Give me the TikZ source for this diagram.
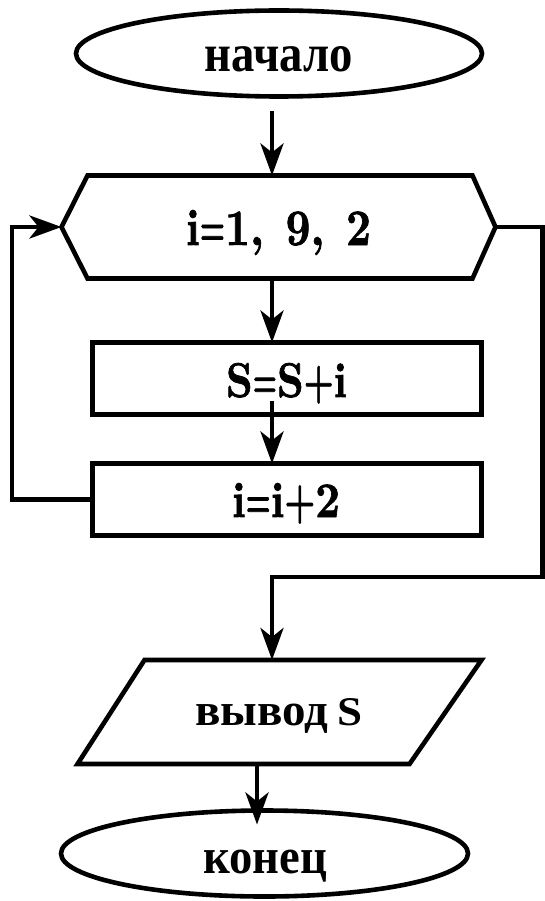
\documentclass[tikz,border=0pt]{standalone}
\usepackage{fontspec}
\usepackage{graphicx}
\usetikzlibrary{arrows.meta,shapes.geometric}
\newfontfamily\cyrfont{Liberation Serif}
\newfontfamily\lmbold{lmroman10-bold.otf}[FakeBold=1.5]
% label text squeezed to a given width and height (in pt)
\newcommand\cyrtxt[3]{\resizebox{#1pt}{#2pt}{\fontsize{50}{60}\selectfont\cyrfont\bfseries #3}}
\newcommand\lmtxt[3]{\resizebox{#1pt}{#2pt}{\fontsize{48}{58}\selectfont\lmbold #3}}
% narrower operator signs
\newcommand\nequal{\scalebox{0.65}[1]{=}}
\newcommand\nplus{\scalebox{0.8}[1]{+}}
\begin{document}
\begin{tikzpicture}[x=1pt,y=-1pt,line width=4.6pt,
  every node/.style={inner sep=0pt,outer sep=0pt},
  terminal/.style={draw,ellipse},
  procbox/.style={draw,rectangle},
  lbl/.style={anchor=base},
  conn/.style={-{Stealth[length=32pt,width=23pt,inset=9pt]}}]
\fill[white] (0,0) rectangle (544,901);
\useasboundingbox (0,0) rectangle (544,901);

% guide coordinates for the connectors
\coordinate (colx) at (272,0);
\coordinate (colb) at (257,0);
\coordinate (lx) at (12,0);
\coordinate (ex) at (542.5,577);

% start
\node[terminal,minimum width=406pt,minimum height=86pt] (start) at (279,53.5) {};
\node[lbl] (startlbl) at (279,72) {\cyrtxt{148}{25}{начало}};

% loop header (hexagon)
\node[minimum width=434pt,minimum height=103pt] (loop) at (278.5,227) {};
\draw (loop.west) -- ([xshift=26pt]loop.north west) -- ([xshift=-23pt]loop.north east)
  -- (loop.east) -- ([xshift=-23pt]loop.south east) -- ([xshift=26pt]loop.south west) -- cycle;
\node[lbl] (looplbl) at (278.5,245) {\lmtxt{185}{35}{i\nequal1,\hspace{0.5em}9,\hspace{0.5em}2}};

% loop body
\node[procbox,minimum width=389pt,minimum height=72pt] (sum) at (287,378.5) {};
\node[lbl] (sumlbl) at (286.5,397) {\lmtxt{121}{34}{S\nequal S\nplus i}};
\node[procbox,minimum width=389pt,minimum height=72pt] (inc) at (287,499.5) {};
\node[lbl] (inclbl) at (286,517) {\lmtxt{108}{34}{i\nequal i\nplus 2}};

% output (parallelogram)
\node[minimum width=404pt,minimum height=104pt] (outp) at (279.5,712) {};
\draw (outp.south west) -- ([xshift=67pt]outp.north west) -- (outp.north east)
  -- ([xshift=-72pt]outp.south east) -- cycle;
\node[lbl] (outlbl) at (261.5,725) {\cyrtxt{133}{21.5}{вывод}};
\node[lbl] (outvar) at (349.5,725) {\cyrtxt{25}{27}{S}};

% end
\node[terminal,minimum width=407pt,minimum height=86pt] (stop) at (264.5,853.5) {};
\node[lbl] (stoplbl) at (265,873) {\cyrtxt{124}{23.5}{конец}};

% connectors
\coordinate (a1) at ([yshift=-15pt]start.south);
\draw[conn] (a1 -| colx) -- (loop.north -| colx);
\draw[conn] (loop.south -| colx) -- (sum.north -| colx);
\coordinate (a3) at ([yshift=14pt]sum.south);
\draw[conn] (a3 -| colx) -- (inc.north -| colx);
\draw[conn] (inc.west) -- (inc.west -| lx) |- (loop.west);
\draw[conn] (loop.east) -| (ex) -| (outp.north -| colx);
\coordinate (a5) at ([yshift=-14pt]stop.north);
\draw[conn] (outp.south -| colb) -- (a5 -| colb);
\end{tikzpicture}
\end{document}
